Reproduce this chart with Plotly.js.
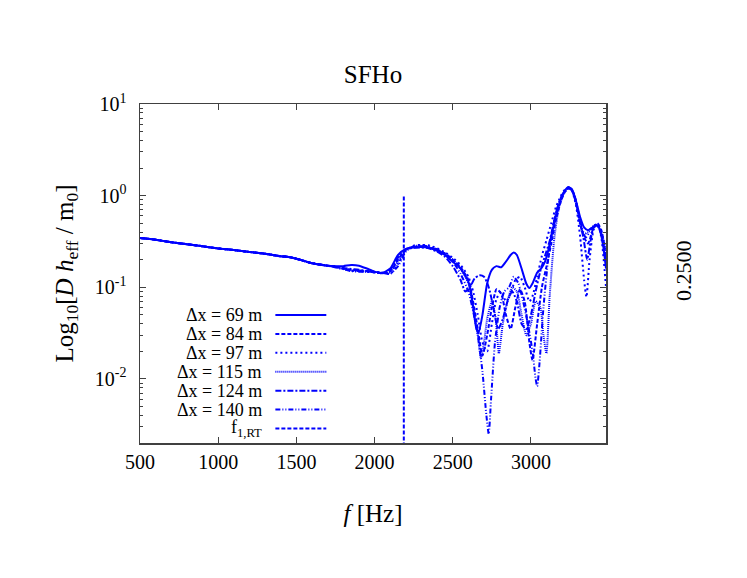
<!DOCTYPE html>
<html>
<head>
<meta charset="utf-8">
<script src="https://cdn.plot.ly/plotly-3.0.1.min.js"></script>
<style>
  html, body { margin: 0; padding: 0; background: #fff; }
  #chart { width: 747px; height: 578px; }
</style>
</head>
<body>
<div id="chart"></div>
<script>
// Shared low-frequency part (all resolutions coincide here)
const lowFreq = [500, 550, 600, 700, 800, 900, 1000, 1100, 1200, 1300, 1400, 1450, 1500, 1600, 1700];
const lowVal = [0.345, 0.338, 0.33, 0.31, 0.295, 0.28, 0.265, 0.255, 0.243, 0.232, 0.218, 0.214, 0.205, 0.183, 0.172];

// dx = 69 m
const freq69 = [1750, 1800, 1850, 1900, 1950, 2000, 2050, 2100, 2150, 2200, 2250, 2300, 2350, 2400, 2450, 2500, 2550, 2600, 2625, 2650, 2665, 2690, 2720, 2750, 2780, 2810, 2840, 2870, 2890, 2910, 2940, 2970, 2990, 3010, 3040, 3065, 3090, 3110, 3130, 3160, 3190, 3215, 3240, 3265, 3290, 3315, 3340, 3365, 3395, 3425, 3450, 3480];
const val69 = [0.17, 0.17, 0.175, 0.172, 0.16, 0.148, 0.143, 0.16, 0.225, 0.262, 0.272, 0.275, 0.27, 0.25, 0.225, 0.19, 0.16, 0.115, 0.07, 0.036, 0.032, 0.05, 0.11, 0.155, 0.17, 0.165, 0.19, 0.225, 0.24, 0.225, 0.16, 0.11, 0.098, 0.11, 0.145, 0.16, 0.19, 0.25, 0.36, 0.6, 0.9, 1.12, 1.24, 1.15, 0.85, 0.58, 0.45, 0.42, 0.45, 0.47, 0.38, 0.16];

// dx = 84 m
const freq84 = [1750, 1800, 1850, 1900, 1950, 2000, 2050, 2100, 2150, 2200, 2250, 2300, 2350, 2400, 2450, 2500, 2550, 2600, 2630, 2660, 2690, 2720, 2750, 2780, 2810, 2840, 2870, 2900, 2930, 2960, 2990, 3010, 3040, 3070, 3100, 3130, 3160, 3190, 3215, 3240, 3265, 3290, 3315, 3340, 3365, 3395, 3425, 3450, 3480];
const val84 = [0.168, 0.16, 0.155, 0.152, 0.15, 0.147, 0.142, 0.15, 0.2, 0.258, 0.275, 0.28, 0.272, 0.255, 0.235, 0.2, 0.165, 0.12, 0.07, 0.035, 0.018, 0.03, 0.06, 0.095, 0.085, 0.05, 0.035, 0.06, 0.095, 0.07, 0.025, 0.016, 0.04, 0.1, 0.17, 0.3, 0.55, 0.85, 1.08, 1.2, 1.12, 0.8, 0.5, 0.35, 0.3, 0.42, 0.5, 0.42, 0.22];

// dx = 97 m
const freq97 = [1750, 1800, 1850, 1900, 1950, 2000, 2050, 2100, 2150, 2200, 2250, 2300, 2350, 2400, 2450, 2500, 2550, 2600, 2630, 2660, 2690, 2720, 2750, 2780, 2810, 2840, 2870, 2900, 2930, 2960, 2990, 3010, 3040, 3070, 3100, 3130, 3160, 3190, 3215, 3240, 3265, 3290, 3315, 3340, 3355, 3375, 3400, 3425, 3450, 3480];
const val97 = [0.17, 0.16, 0.153, 0.15, 0.148, 0.146, 0.145, 0.14, 0.18, 0.25, 0.285, 0.29, 0.285, 0.265, 0.24, 0.21, 0.175, 0.13, 0.09, 0.05, 0.025, 0.02, 0.04, 0.075, 0.09, 0.07, 0.085, 0.12, 0.13, 0.1, 0.07, 0.08, 0.13, 0.22, 0.33, 0.5, 0.75, 0.98, 1.15, 1.2, 1.1, 0.75, 0.35, 0.12, 0.078, 0.2, 0.42, 0.5, 0.35, 0.1];

// dx = 115 m
const freq115 = [1750, 1800, 1850, 1900, 1950, 2000, 2050, 2100, 2150, 2200, 2250, 2300, 2350, 2400, 2450, 2500, 2550, 2600, 2630, 2660, 2680, 2700, 2720, 2750, 2775, 2795, 2820, 2850, 2880, 2910, 2940, 2970, 3000, 3030, 3060, 3080, 3099, 3120, 3150, 3180, 3210, 3240, 3265, 3290, 3315, 3340, 3365, 3395, 3425, 3450, 3480];
const val115 = [0.165, 0.158, 0.152, 0.15, 0.149, 0.147, 0.143, 0.145, 0.19, 0.255, 0.275, 0.278, 0.27, 0.255, 0.23, 0.2, 0.16, 0.11, 0.06, 0.03, 0.017, 0.025, 0.045, 0.07, 0.045, 0.019, 0.04, 0.07, 0.1, 0.09, 0.05, 0.03, 0.04, 0.07, 0.06, 0.03, 0.019, 0.08, 0.35, 0.75, 1.05, 1.22, 1.12, 0.8, 0.48, 0.38, 0.4, 0.46, 0.48, 0.4, 0.25];

// dx = 124 m
const freq124 = [1750, 1800, 1850, 1900, 1950, 2000, 2050, 2100, 2150, 2200, 2250, 2300, 2350, 2400, 2450, 2500, 2550, 2580, 2610, 2640, 2670, 2700, 2730, 2760, 2790, 2820, 2850, 2880, 2910, 2940, 2970, 3000, 3030, 3060, 3090, 3120, 3150, 3180, 3210, 3235, 3260, 3285, 3310, 3335, 3360, 3385, 3410, 3435, 3460, 3480];
const val124 = [0.168, 0.162, 0.158, 0.155, 0.15, 0.145, 0.142, 0.155, 0.21, 0.26, 0.27, 0.272, 0.265, 0.245, 0.215, 0.17, 0.12, 0.09, 0.1, 0.125, 0.135, 0.13, 0.1, 0.06, 0.035, 0.045, 0.07, 0.09, 0.07, 0.04, 0.035, 0.05, 0.09, 0.15, 0.22, 0.32, 0.55, 0.85, 1.1, 1.22, 1.18, 0.9, 0.55, 0.35, 0.2, 0.35, 0.48, 0.45, 0.3, 0.18];

// dx = 140 m
const freq140 = [1750, 1800, 1850, 1900, 1950, 2000, 2050, 2100, 2150, 2200, 2250, 2300, 2350, 2400, 2450, 2500, 2550, 2600, 2630, 2660, 2690, 2715, 2730, 2745, 2770, 2800, 2830, 2860, 2890, 2920, 2950, 2980, 3010, 3030, 3040, 3055, 3080, 3110, 3140, 3170, 3200, 3225, 3250, 3275, 3300, 3325, 3350, 3375, 3400, 3425, 3450, 3480];
const val140 = [0.165, 0.158, 0.15, 0.148, 0.147, 0.146, 0.144, 0.14, 0.17, 0.245, 0.28, 0.285, 0.278, 0.26, 0.23, 0.19, 0.14, 0.09, 0.055, 0.03, 0.012, 0.004, 0.0025, 0.006, 0.025, 0.06, 0.09, 0.1, 0.13, 0.11, 0.07, 0.04, 0.02, 0.01, 0.0083, 0.015, 0.06, 0.2, 0.45, 0.75, 1.0, 1.18, 1.2, 1.05, 0.7, 0.45, 0.35, 0.4, 0.46, 0.47, 0.38, 0.2];

// f_1,RT marker
const fRT = 2187;
const fRTSpan = [0.001, 1.0];

const seriesLabels = ['Δx = 69 m', 'Δx = 84 m', 'Δx = 97 m', 'Δx = 115 m', 'Δx = 124 m', 'Δx = 140 m', 'f<sub>1,RT</sub>'];
const xTicks = [500, 1000, 1500, 2000, 2500, 3000];
const yTicks = [0.01, 0.1, 1, 10];
const yTickText = ['10<sup>-2</sup>', '10<sup>-1</sup>', '10<sup>0</sup>', '10<sup>1</sup>'];

const BLUE = '#0000ff';
const FONT = 'Liberation Serif, Times New Roman, serif';
const DASHES = ['solid', '4px,2px', '2px,3px', '1px,1px', '6px,2px,2px,2px', '5px,2px,1px,2px,1px,2px', '4px,2px'];

const seriesData = [
    [freq69, val69], [freq84, val84], [freq97, val97],
    [freq115, val115], [freq124, val124], [freq140, val140]
];

const traces = seriesData.map(([f, v], i) => ({
    x: lowFreq.concat(f),
    y: lowVal.concat(v),
    type: 'scatter',
    mode: 'lines',
    line: { color: BLUE, width: 2, dash: DASHES[i], shape: 'spline', smoothing: 0.6 },
    hoverinfo: 'skip'
}));

traces.push({
    x: [fRT, fRT],
    y: fRTSpan,
    type: 'scatter',
    mode: 'lines',
    line: { color: BLUE, width: 2, dash: DASHES[6] },
    hoverinfo: 'skip'
});

// gnuplot-style key: right aligned text, sample line on the right
const keyTop = 0.3776;
const keyStep = 0.0558;
const annotations = seriesLabels.map((label, i) => ({
    xref: 'paper', yref: 'paper',
    x: 0.2654, y: keyTop - i * keyStep,
    xanchor: 'right', yanchor: 'middle',
    text: label, showarrow: false,
    font: { family: FONT, size: 18, color: '#000' }
}));
const shapes = seriesLabels.map((label, i) => ({
    type: 'line', xref: 'paper', yref: 'paper',
    x0: 0.2905, x1: 0.3998,
    y0: keyTop - i * keyStep, y1: keyTop - i * keyStep,
    line: { color: BLUE, width: 2, dash: DASHES[i] }
}));

annotations.push({
    xref: 'paper', yref: 'paper',
    x: 1.165, y: 0.51,
    xanchor: 'center', yanchor: 'middle',
    text: '0.2500', textangle: -90, showarrow: false,
    font: { family: FONT, size: 22, color: '#000' }
});

const layout = {
    width: 747,
    height: 578,
    paper_bgcolor: '#fff',
    plot_bgcolor: '#fff',
    margin: { l: 139.5, r: 141, t: 104, b: 135 },
    showlegend: false,
    font: { family: FONT, color: '#000' },
    title: {
        text: 'SFHo',
        font: { family: FONT, size: 25 },
        x: 0.5, xref: 'paper',
        y: 1 - 74 / 578, yref: 'container', yanchor: 'middle'
    },
    xaxis: {
        range: [500, 3480],
        tickvals: xTicks,
        ticks: 'inside', ticklen: 6, tickwidth: 1, tickcolor: '#404040',
        showline: true, linecolor: '#404040', linewidth: 1.5, mirror: 'ticks',
        showgrid: false, zeroline: false,
        tickfont: { family: FONT, size: 20 },
        title: { text: '<i>f</i> [Hz]', font: { family: FONT, size: 25 }, standoff: 33 }
    },
    yaxis: {
        type: 'log',
        range: [-2.7, 1],
        tickvals: yTicks,
        ticktext: yTickText,
        ticks: 'inside', ticklen: 6, tickwidth: 1, tickcolor: '#404040',
        minor: { dtick: 'D1', ticks: 'inside', ticklen: 3, tickcolor: '#404040', showgrid: false },
        showline: true, linecolor: '#404040', linewidth: 1.5, mirror: 'ticks',
        showgrid: false, zeroline: false,
        ticklabelstandoff: 8,
        tickfont: { family: FONT, size: 20 },
        title: { text: 'Log<sub>10</sub>[<i>D h</i><sub>eff</sub> / m<sub>0</sub>]', font: { family: FONT, size: 25 }, standoff: 14 }
    },
    annotations: annotations,
    shapes: shapes
};

Plotly.newPlot('chart', traces, layout, { staticPlot: true, displayModeBar: false });
</script>
</body>
</html>
